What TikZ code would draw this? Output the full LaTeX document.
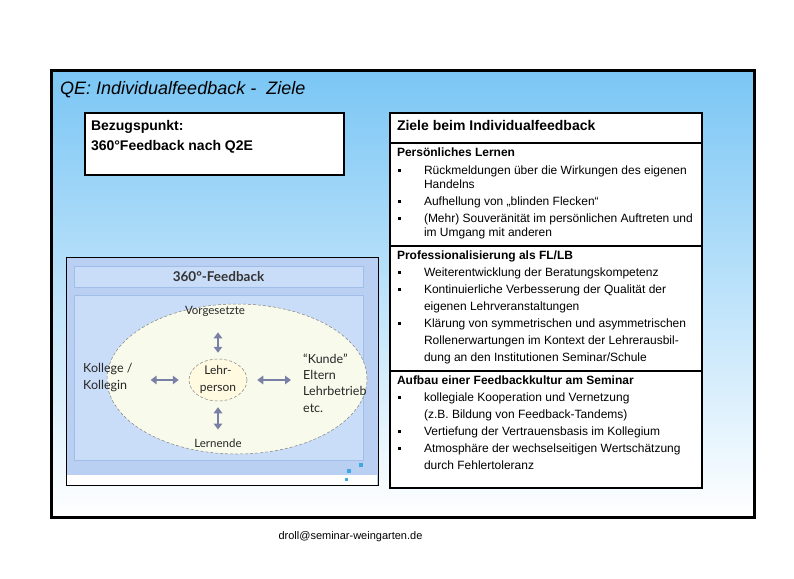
\documentclass[tikz,border=0pt]{standalone}
\usepackage{fontspec}
\setmainfont{Liberation Sans}
\newfontfamily\bildfont{Lato}
\usetikzlibrary{arrows.meta,positioning,shapes.geometric}

\definecolor{himmel}{RGB}{122,198,245}
\definecolor{bildblau}{RGB}{186,208,242}
\definecolor{bandblau}{RGB}{202,221,248}
\definecolor{randblau}{RGB}{160,190,232}
\definecolor{elfenbein}{RGB}{248,250,236}
\definecolor{hellgelb}{RGB}{255,250,224}
\definecolor{pfeilgrau}{RGB}{122,128,165}
\definecolor{quadrat}{RGB}{60,170,225}

\newcommand{\oben}[3]{\parbox[c][#1][t]{#2}{#3}}
\newcommand{\punkt}[1]{\par\noindent\hangindent=27pt\hangafter=1\makebox[27pt][l]{\hspace{1pt}\rule[2.6pt]{3pt}{3pt}}#1}

\begin{document}
\begin{tikzpicture}[x=1pt, y=-1pt,
  kasten/.style={rectangle, draw, line width=2.6pt, fill=white, outer sep=0pt, inner xsep=7pt, inner ysep=4.5pt, anchor=north west},
  bildtext/.style={inner sep=0pt, align=left, text=black!85, font=\bildfont\fontsize{11.5}{16.5}\selectfont},
  pfeil/.style={{Triangle[length=6pt,width=8.5pt]}-{Triangle[length=6pt,width=8.5pt]}, line width=2.7pt, draw=pfeilgrau}
]
\useasboundingbox (0,0) rectangle (794,578);

% Rahmen mit Verlauf
\node[rectangle, draw, line width=3pt, top color=himmel, bottom color=white, minimum width=703pt, minimum height=447pt] (rahmen) at (402.5,293.5) {};
\node[anchor=base west, inner sep=0pt, font=\itshape\fontsize{18}{20}\selectfont] (titel) at (60,94.5) {QE: Individualfeedback -\ \ Ziele};

% Bezugspunkt
\node[kasten, line width=2.2pt, inner xsep=6pt, inner ysep=7.5pt] (bezug) at (85,113)
  {\oben{47pt}{247pt}{\bfseries\fontsize{14}{20}\selectfont Bezugspunkt:\\360°Feedback nach Q2E}};

% Bild 360-Grad-Feedback
\node[rectangle, fill=bildblau, draw, line width=1pt, minimum width=312pt, minimum height=228pt] (bild) at (222,371) {};
\node[rectangle, fill=white, inner sep=0pt, minimum width=310pt, minimum height=9.5pt] (fuss) at (222,479.75) {};
\node[rectangle, fill=bandblau, draw=randblau, line width=0.8pt, minimum width=289pt, minimum height=21pt, text=black!80, font=\bildfont\bfseries\fontsize{13.5}{15}\selectfont] (band) at (218.5,276.5) {360°-Feedback};
\node[rectangle, fill=bandblau, draw=randblau, line width=0.8pt, minimum width=289pt, minimum height=165pt] (feld) at (218.5,377.5) {};
\node[ellipse, draw=gray, densely dashed, line width=0.5pt, fill=elfenbein, inner sep=0pt, minimum width=260pt, minimum height=150pt] (kreis) at (237,379) {};
\node[ellipse, draw=gray, densely dashed, line width=0.5pt, fill=hellgelb, inner sep=0pt, minimum width=58pt, minimum height=42pt, align=center, text=black!85, font=\bildfont\fontsize{12}{17}\selectfont] (lehr) at (218,380) {Lehr-\\person};

\node[bildtext] (vorg) at (215,311) {Vorgesetzte};
\node[bildtext] (lernende) at (218,443) {Lernende};
\node[bildtext, anchor=west, font=\bildfont\fontsize{12.5}{17}\selectfont] (kollege) at (83,378) {Kollege /\\Kollegin};
\node[bildtext, anchor=west, font=\bildfont\fontsize{12.5}{16.3}\selectfont] (kunde) at (303,383) {“Kunde”\\Eltern\\Lehrbetrieb\\etc.};

\draw[pfeil, shorten <=6pt, shorten >=16pt] (lehr.north) -- (lehr.north |- vorg.south);
\draw[pfeil, shorten <=6pt, shorten >=9pt] (lehr.south) -- (lehr.south |- lernende.north);
\draw[pfeil, shorten <=10pt, shorten >=18pt] (lehr.west) -- (lehr.west -| kollege.east);
\draw[pfeil, shorten <=10pt, shorten >=12pt] (lehr.east) -- (lehr.east -| kunde.west);

\node[fill=quadrat, inner sep=0pt, minimum size=4pt] (q1) at (361,465) {};
\node[fill=quadrat, inner sep=0pt, minimum size=4pt] (q2) at (349,471) {};
\node[fill=quadrat, inner sep=0pt, minimum size=3pt] (q3) at (346,479) {};

% Ziele
\node[kasten, inner ysep=7.5pt] (kopf) at (390,113)
  {\oben{15pt}{298pt}{\bfseries\fontsize{14}{17}\selectfont Ziele beim Individualfeedback}};
\node[kasten, below=0pt of kopf] (pers)
  {\oben{94pt}{298pt}{\fontsize{12}{14}\selectfont
    \textbf{Persönliches Lernen}\par\vspace{4pt}
    \punkt{Rückmeldungen über die Wirkungen des eigenen\\Handelns}\par\vspace{3pt}
    \punkt{Aufhellung von „blinden Flecken“}\par\vspace{3pt}
    \punkt{(Mehr) Souveränität im persönlichen Auftreten und\\im Umgang mit anderen}}};
\node[kasten, below=0pt of pers] (prof)
  {\oben{116pt}{298pt}{\fontsize{12}{17}\selectfont
    \textbf{Professionalisierung als FL/LB}
    \punkt{Weiterentwicklung der Beratungskompetenz}
    \punkt{Kontinuierliche Verbesserung der Qualität der\\eigenen Lehrveranstaltungen}
    \punkt{Klärung von symmetrischen und asymmetrischen\\Rollenerwartungen im Kontext der Lehrerausbil-\\dung an den Institutionen Seminar/Schule}}};
\node[kasten, below=0pt of prof] (aufbau)
  {\oben{108pt}{298pt}{\fontsize{12}{17}\selectfont
    \textbf{Aufbau einer Feedbackkultur am Seminar}
    \punkt{kollegiale Kooperation und Vernetzung\\(z.B. Bildung von Feedback-Tandems)}
    \punkt{Vertiefung der Vertrauensbasis im Kollegium}
    \punkt{Atmosphäre der wechselseitigen Wertschätzung\\durch Fehlertoleranz}}};

\node[font=\fontsize{11}{13}\selectfont] (mail) at (350.5,537) {droll@seminar-weingarten.de};

\end{tikzpicture}
\end{document}
